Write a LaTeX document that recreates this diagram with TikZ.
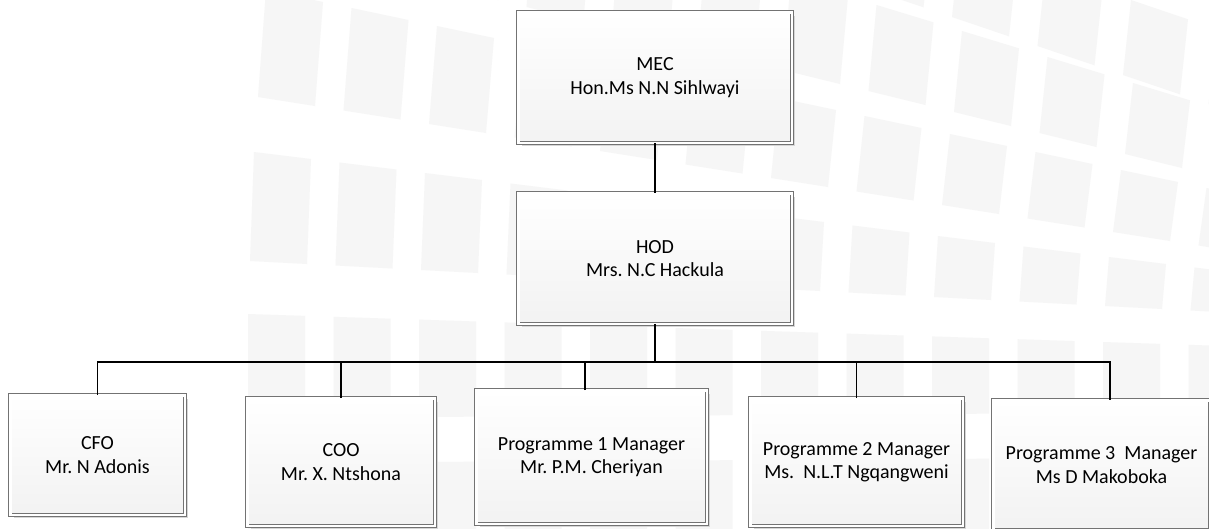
\documentclass[tikz,border=0pt]{standalone}
\usepackage{fontspec}
\setmainfont{Carlito}
\frenchspacing
\usetikzlibrary{positioning,shadows}

\begin{document}
\begin{tikzpicture}[
  x=1pt, y=-1pt,
  office/.style={draw=black!55, double=white, double distance=2.6pt, line width=0.9pt, outer sep=0pt, inner sep=0pt, top color=white, bottom color=black!5, drop shadow={shadow xshift=3.5pt, shadow yshift=-3.5pt, fill=black!16, opacity=1}, align=center, font=\fontsize{20}{23.5}\selectfont},
  link/.style={line width=1.4pt, black},
  tile/.style={fill=black!3.5},
]

\useasboundingbox (0,0) rectangle (1209,528);
\clip (0,0) rectangle (1209,528);
\fill[white] (0,0) rectangle (1209,528);

% faint tiles in the background
\foreach \ta/\tb/\ba/\bb/\sh/\sk in {-290/29/-215/29/20/8, -177/26/-56/21/22/8, -10/18/97/13.5/10/8, 152/10.5/261/4.5/2/4, 314/2.8/418/-0.5/0/0, 463/-0.5/560/0/0/0}{
  \foreach \i in {0,...,11}{
    \fill[tile] ({248+85.5*\i+\sh+\sk},{\ta+\tb*\i}) -- ({305+85.5*\i+\sh+\sk},{\ta+\tb*\i+0.667*\tb})
      -- ({305+85.5*\i+\sh},{\ba+\bb*\i+0.667*\bb}) -- ({248+85.5*\i+\sh},{\ba+\bb*\i}) -- cycle;
  }
}

\node[office, minimum width=273.6pt, minimum height=130.6pt] (mec) at (655,77.5) {MEC\\Hon.Ms N.N Sihlwayi};
\node[office, minimum width=273.6pt, minimum height=130.6pt, below=50.4pt of mec] (hod) {HOD\\Mrs. N.C Hackula};

\node[office, minimum width=174.6pt, minimum height=119.6pt] (cfo) at (97.5,455) {CFO\\Mr. N Adonis};
\node[office, minimum width=187.6pt, minimum height=127.6pt] (coo) at (341,462) {COO\\Mr. X. Ntshona};
\node[office, minimum width=230.6pt, minimum height=133.6pt] (pm1) at (591.5,457) {Programme 1 Manager\\Mr. P.M. Cheriyan};
\node[office, minimum width=212.6pt, minimum height=127.6pt] (pm2) at (856.5,462) {Programme 2 Manager\\Ms.~ N.L.T Ngqangweni};
\node[office, minimum width=216.6pt, minimum height=129.6pt] (pm3) at (1101.5,465) {Programme 3~ Manager\\Ms D Makoboka};

\coordinate (bus) at (655,362);
\coordinate (pm1top) at ([xshift=-6.5pt]pm1.north);
\coordinate (pm3top) at ([xshift=8.5pt]pm3.north);

\draw[link] (mec) -- (hod);
\draw[link] (hod.south) -- (hod.south |- bus);
\draw[link] (cfo.north) -- (cfo.north |- bus) -- (pm3top |- bus) -- (pm3top);
\draw[link] (coo.north) -- (coo.north |- bus);
\draw[link] (pm1top) -- (pm1top |- bus);
\draw[link] (pm2.north) -- (pm2.north |- bus);

\end{tikzpicture}
\end{document}
